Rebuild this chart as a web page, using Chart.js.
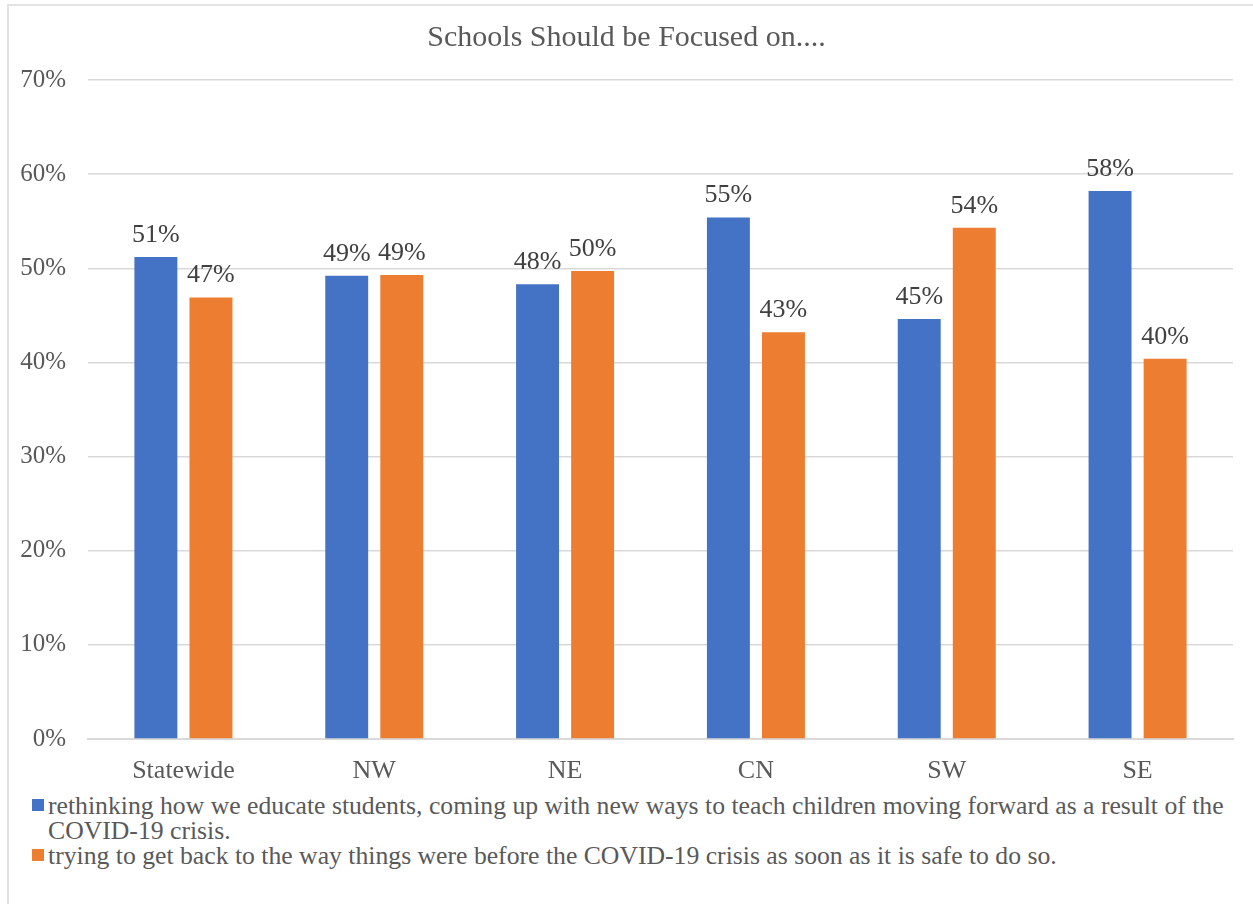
<!DOCTYPE html>
<html lang="en">
<head>
    <meta charset="UTF-8">
    <title>Schools Should be Focused on....</title>
    <script src="https://cdnjs.cloudflare.com/ajax/libs/Chart.js/4.2.1/chart.umd.js"></script>
    <style>
        body { margin: 0; background: #fff; overflow: hidden; }
        .frame {
            position: absolute; left: 7px; top: 4px; width: 1300px; height: 1000px;
            border-top: 2px solid #e2e2e2; border-left: 2px solid #e2e2e2;
        }
        #chart { position: absolute; left: 0; top: 0; }
        .legend {
            position: absolute; left: 32px; top: 793px; width: 1210px;
            font-family: "Liberation Serif", "Times New Roman", serif;
            font-size: 25.7px; line-height: 25px; color: #595959;
        }
        .legend .item { display: flex; align-items: flex-start; }
        .legend .swatch { flex: none; width: 12px; height: 12px; margin: 6px 4px 0 0; }
    </style>
</head>
<body>
    <div class="frame"></div>
    <canvas id="chart" width="1253" height="790"></canvas>
    <div class="legend" id="legend"></div>

    <script>
        const regions = ['Statewide', 'NW', 'NE', 'CN', 'SW', 'SE'];
        const rethinking = [51.2, 49.2, 48.3, 55.4, 44.6, 58.2];
        const getBack = [46.9, 49.3, 49.7, 43.2, 54.3, 40.4];
        const seriesNames = [
            'rethinking how we educate students, coming up with new ways to teach children moving forward as a result of the COVID-19 crisis.',
            'trying to get back to the way things were before the COVID-19 crisis as soon as it is safe to do so.'
        ];
        const yTicks = [0, 10, 20, 30, 40, 50, 60, 70];

        const BLUE = '#4472C4';
        const ORANGE = '#ED7D31';
        const FONT = '"Liberation Serif", "Times New Roman", serif';

        // percent labels above every bar
        const barLabels = {
            id: 'barLabels',
            afterDatasetsDraw(chart) {
                const ctx = chart.ctx;
                ctx.save();
                ctx.font = '26px ' + FONT;
                ctx.fillStyle = '#404040';
                ctx.textAlign = 'center';
                ctx.textBaseline = 'alphabetic';
                chart.data.datasets.forEach((ds, i) => {
                    chart.getDatasetMeta(i).data.forEach((bar, j) => {
                        ctx.fillText(Math.round(ds.data[j]) + '%', bar.x, bar.y - 15);
                    });
                });
                ctx.restore();
            }
        };

        const chart = new Chart(document.getElementById('chart'), {
            type: 'bar',
            data: {
                labels: regions,
                datasets: [
                    { label: seriesNames[0], data: rethinking, backgroundColor: BLUE },
                    { label: seriesNames[1], data: getBack, backgroundColor: ORANGE }
                ]
            },
            plugins: [barLabels],
            options: {
                responsive: false,
                animation: false,
                categoryPercentage: 0.577,
                barPercentage: 0.78,
                // equal side padding keeps the title centred on the canvas
                layout: { padding: { left: 20, right: 20, top: 0, bottom: 0 } },
                plugins: {
                    legend: { display: false },
                    tooltip: { enabled: false },
                    title: {
                        display: true,
                        text: 'Schools Should be Focused on....',
                        color: '#595959',
                        font: { family: FONT, size: 30, weight: 'normal' },
                        padding: { top: 20, bottom: 24 }
                    }
                },
                scales: {
                    x: {
                        grid: { display: false, drawTicks: false },
                        border: { display: true, color: '#d9d9d9', width: 2 },
                        ticks: {
                            color: '#595959',
                            font: { family: FONT, size: 26 },
                            padding: 17
                        },
                        afterFit(scale) { scale.height = 51; }
                    },
                    y: {
                        min: 0,
                        max: 70,
                        afterBuildTicks(scale) { scale.ticks = yTicks.map(v => ({ value: v })); },
                        grid: { color: '#d9d9d9', lineWidth: 1.5, drawTicks: false },
                        border: { display: false },
                        ticks: {
                            color: '#595959',
                            font: { family: FONT, size: 25 },
                            padding: 22,
                            callback: v => v + '%'
                        },
                        afterFit(scale) { scale.width = 68; }
                    }
                }
            }
        });

        // legend below the chart, wrapping like the original
        const legend = document.getElementById('legend');
        [BLUE, ORANGE].forEach((c, i) => {
            const item = document.createElement('div');
            item.className = 'item';
            item.innerHTML = '<span class="swatch" style="background:' + c + '"></span><span>' + seriesNames[i] + '</span>';
            legend.appendChild(item);
        });
    </script>
</body>
</html>
